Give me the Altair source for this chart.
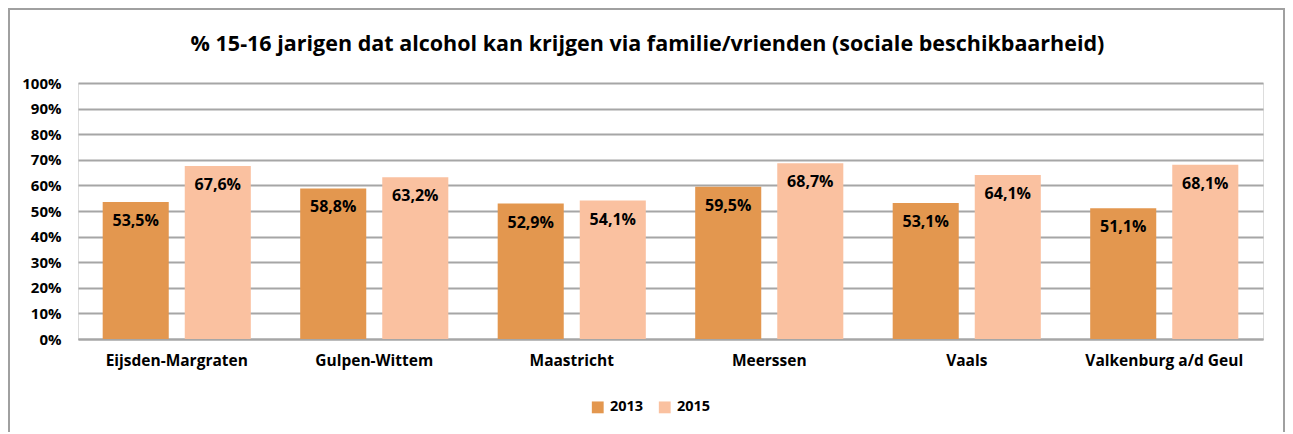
import altair as alt
import pandas as pd

gemeenten = ["Eijsden-Margraten", "Gulpen-Wittem", "Maastricht", "Meerssen", "Vaals", "Valkenburg a/d Geul"]
jaren = ["2013", "2015"]
waarden_2013 = [53.5, 58.8, 52.9, 59.5, 53.1, 51.1]
waarden_2015 = [67.6, 63.2, 54.1, 68.7, 64.1, 68.1]
y_ticks = [0, 10, 20, 30, 40, 50, 60, 70, 80, 90, 100]
kleuren = ["#E3974F", "#FAC1A0"]
titel = "% 15-16 jarigen dat alcohol kan krijgen via familie/vrienden (sociale beschikbaarheid)"

rows = []
for g, a, b in zip(gemeenten, waarden_2013, waarden_2015):
    rows.append({"gemeente": g, "jaar": "2013", "waarde": a, "label": f"{a:.1f}%".replace(".", ",")})
    rows.append({"gemeente": g, "jaar": "2015", "waarde": b, "label": f"{b:.1f}%".replace(".", ",")})
df = pd.DataFrame(rows)

W, H = 1185, 256
FONT = "Open Sans"

x = alt.X("gemeente:N", sort=gemeenten, title=None,
          scale=alt.Scale(paddingInner=0.25, paddingOuter=0.125),
          axis=alt.Axis(labelAngle=0, labelFontSize=15.5, labelFontWeight="bold", labelColor="#000000",
                        labelFont=FONT, labelPadding=14, ticks=False, domainColor="#A6A6A6", domainWidth=2))
xo = alt.XOffset("jaar:N", sort=jaren, scale=alt.Scale(paddingInner=0.195, paddingOuter=0))
y = alt.Y("waarde:Q", title=None,
          scale=alt.Scale(domain=[0, 100], nice=False),
          axis=alt.Axis(values=y_ticks, labelExpr="datum.value + '%'", labelFontSize=15,
                        labelFontWeight="bold", labelColor="#000000", labelFont=FONT, labelPadding=17,
                        labelOverlap=False, ticks=False, domain=False, gridColor="#A6A6A6", gridWidth=2))

bars = alt.Chart(df).mark_bar().encode(
    x=x, xOffset=xo, y=y,
    color=alt.Color("jaar:N", sort=jaren, scale=alt.Scale(domain=jaren, range=kleuren),
                    legend=alt.Legend(orient="none", legendX=W / 2 - 80, legendY=H + 61, direction="horizontal",
                                      title=None, symbolType="square", symbolSize=140, symbolStrokeWidth=0,
                                      labelFontSize=14.5, labelFontWeight="bold", labelFont=FONT,
                                      labelColor="#000000", columnPadding=14, labelOffset=5)),
)

labels = alt.Chart(df).mark_text(baseline="middle", align="center", dy=19, fontSize=16,
                                  fontWeight="bold", font=FONT, color="#000000").encode(
    x=x, xOffset=xo, y=y, text="label:N")

title_mark = alt.Chart(pd.DataFrame({"t": [titel]})).mark_text(
    align="center", baseline="middle", fontSize=21.5, fontWeight="bold", font=FONT, color="#000000").encode(
    x=alt.value(W / 2 - 23), y=alt.value(-38), text="t:N")

frame = alt.Chart(pd.DataFrame({"k": [0]})).mark_rect(fill=None, stroke="#A0A0A0", strokeWidth=2).encode(
    x=alt.value(-69), x2=alt.value(W + 21), y=alt.value(-74), y2=alt.value(H + 200))

chart = alt.layer(bars, labels, title_mark, frame).properties(
    width=W, height=H,
    autosize=alt.AutoSizeParams(type="none"),
    padding={"left": 70, "top": 75, "right": 22, "bottom": 93},
).configure_view(fill="#F2F2F2", stroke=None).configure(background="#FFFFFF")

chart.save("out.html", embed_options={"renderer": "svg", "actions": False})
